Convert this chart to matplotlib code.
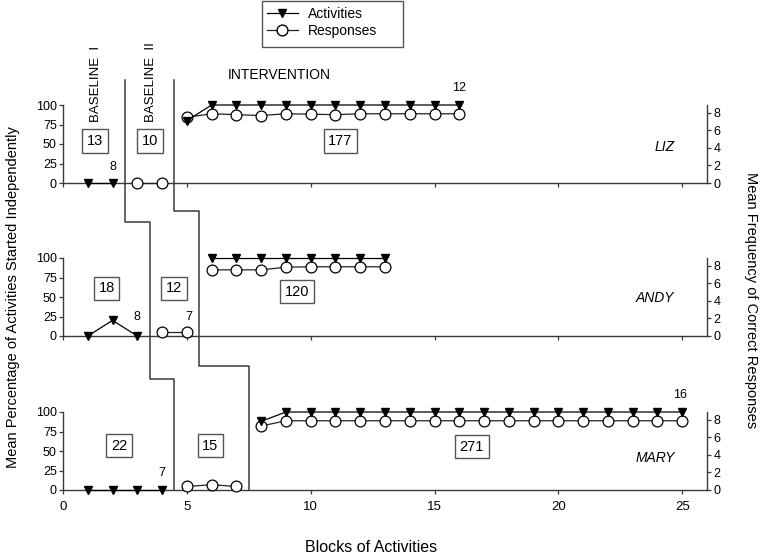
import matplotlib
matplotlib.use('Agg')
import matplotlib.pyplot as plt
from matplotlib.lines import Line2D
from matplotlib.patches import Rectangle

plt.rcParams['font.family'] = ['Liberation Sans', 'DejaVu Sans']

# ---------------- data ----------------
participants = ['LIZ', 'ANDY', 'MARY']

# LIZ
liz_bl1_x = [1, 2]
liz_bl1_act = [0, 0]
liz_bl2_x = [3, 4]
liz_bl2_resp = [0, 0]
liz_int_x = [5, 6, 7, 8, 9, 10, 11, 12, 13, 14, 15, 16]
liz_int_act = [80, 100, 100, 100, 100, 100, 100, 100, 100, 100, 100, 100]
liz_int_resp = [7.5, 7.9, 7.8, 7.7, 7.9, 7.85, 7.8, 7.9, 7.9, 7.9, 7.9, 7.9]

# ANDY
andy_bl1_x = [1, 2, 3]
andy_bl1_act = [0, 20, 0]
andy_bl2_x = [4, 5]
andy_bl2_resp = [0.4, 0.4]
andy_int_x = [6, 7, 8, 9, 10, 11, 12, 13]
andy_int_act = [100, 100, 100, 100, 100, 100, 100, 100]
andy_int_resp = [7.55, 7.55, 7.55, 7.85, 7.9, 7.9, 7.9, 7.9]

# MARY
mary_bl1_x = [1, 2, 3, 4]
mary_bl1_act = [0, 0, 0, 0]
mary_bl2_x = [5, 6, 7]
mary_bl2_resp = [0.4, 0.6, 0.4]
mary_int_x = [8, 9, 10, 11, 12, 13, 14, 15, 16, 17, 18, 19, 20, 21, 22, 23, 24, 25]
mary_int_act = [88, 100, 100, 100, 100, 100, 100, 100, 100, 100, 100, 100, 100, 100, 100, 100, 100, 100]
mary_int_resp = [7.3, 7.9, 7.9, 7.9, 7.9, 7.9, 7.9, 7.9, 7.9, 7.9, 7.9, 7.9, 7.9, 7.9, 7.9, 7.9, 7.9, 7.9]

# boxed numbers (per phase) and small annotation numbers
box_counts = {'LIZ': ['13', '10', '177'], 'ANDY': ['18', '12', '120'], 'MARY': ['22', '15', '271']}
small_notes = {'LIZ': ['8', '12'], 'ANDY': ['8', '7'], 'MARY': ['7', '16']}

x_ticks = [0, 5, 10, 15, 20, 25]
left_ticks = [0, 25, 50, 75, 100]
right_ticks = [0, 2, 4, 6, 8]

# phase-change positions (between sessions)
phase1_x = [2.5, 3.5, 4.5]
phase2_x = [4.5, 5.5, 7.5]

# ---------------- layout ----------------
W, H = 762, 553
fig = plt.figure(figsize=(W / 100, H / 100), dpi=100)

left_px, right_px = 63, 707
panel_y0_px = [183, 336, 490]
panel_h_px = 78

series = {
    'LIZ': (liz_bl1_x, liz_bl1_act, liz_bl2_x, liz_bl2_resp, liz_int_x, liz_int_act, liz_int_resp),
    'ANDY': (andy_bl1_x, andy_bl1_act, andy_bl2_x, andy_bl2_resp, andy_int_x, andy_int_act, andy_int_resp),
    'MARY': (mary_bl1_x, mary_bl1_act, mary_bl2_x, mary_bl2_resp, mary_int_x, mary_int_act, mary_int_resp),
}

box_pos = {'LIZ': [(1.3, 54), (3.5, 54), (11.2, 54)],
           'ANDY': [(1.76, 61), (4.48, 61), (9.46, 57)],
           'MARY': [(2.26, 57), (5.95, 57), (16.5, 55.5)]}
note_pos = {'LIZ': [(2.0, 21), (16.0, 122)],
            'ANDY': [(3.0, 24), (5.1, 25)],
            'MARY': [(4.0, 22), (24.9, 122)]}
name_pos = {'LIZ': (24.3, 46), 'ANDY': (23.9, 49), 'MARY': (23.9, 41)}

axc = '#3a3a3a'
RMAX = 8.9

tri_kw = dict(marker='v', color='black', markersize=6, lw=0.9, clip_on=False, zorder=6)
circ_kw = dict(marker='o', color='#222222', markerfacecolor='white', markeredgecolor='black',
               markersize=7.8, markeredgewidth=0.9, lw=0.9, clip_on=False, zorder=5)

axes = []
for i, name in enumerate(participants):
    b = 1 - panel_y0_px[i] / H
    ax = fig.add_axes([left_px / W, b, (right_px - left_px) / W, panel_h_px / H])
    ax.set_xlim(0, 26)
    ax.set_ylim(0, 100)
    ax.patch.set_visible(False)
    for s in ['top', 'right']:
        ax.spines[s].set_visible(False)
    ax.spines['left'].set_color(axc)
    ax.spines['bottom'].set_color(axc)
    ax.spines['left'].set_linewidth(1.0)
    ax.spines['bottom'].set_linewidth(1.0)
    ax.set_yticks(left_ticks)
    ax.set_xticks(x_ticks)
    ax.tick_params(axis='both', length=3, width=0.9, color=axc, labelsize=9, pad=1.5)
    if i < 2:
        ax.tick_params(axis='x', labelbottom=False)
    else:
        ax.tick_params(axis='x', pad=5, labelsize=9.5)

    ax2 = ax.twinx()
    ax2.set_ylim(0, RMAX)
    ax2.set_yticks(right_ticks)
    for s in ['top', 'left', 'bottom']:
        ax2.spines[s].set_visible(False)
    ax2.spines['right'].set_color(axc)
    ax2.spines['right'].set_linewidth(1.0)
    ax2.tick_params(axis='y', length=3, width=0.9, color=axc, labelsize=9, pad=1.5)

    bx, bact, b2x, b2resp, ix, iact, iresp = series[name]
    # responses on the right (frequency) scale
    ax2.plot(b2x, b2resp, **circ_kw)
    ax2.plot(ix, iresp, **circ_kw)
    # activities on the left (percentage) scale, drawn above the circles
    ax2.plot(bx, bact, transform=ax.transData, **tri_kw)
    ax2.plot(ix, iact, transform=ax.transData, **tri_kw)

    for lab, (px, py) in zip(box_counts[name], box_pos[name]):
        ax.text(px, py, lab, ha='center', va='center', fontsize=10.5,
                bbox=dict(boxstyle='square,pad=0.32', fc='white', ec='#555555', lw=1.0))
    for lab, (px, py) in zip(small_notes[name], note_pos[name]):
        ax.text(px, py, lab, ha='center', va='center', fontsize=9)
    nx, ny = name_pos[name]
    ax.text(nx, ny, name, ha='center', va='center', fontsize=10, style='italic')
    axes.append(ax)

# phase labels
top = axes[0]
top.text(1.35, 78, 'BASELINE  I', rotation=90, ha='center', va='bottom', fontsize=9.5)
top.text(3.57, 78, 'BASELINE  II', rotation=90, ha='center', va='bottom', fontsize=9.5)
top.text(8.74, 138, 'INTERVENTION', ha='center', va='center', fontsize=10)

# phase-change staircases
def to_fig(ax, x, y):
    return fig.transFigure.inverted().transform(ax.transData.transform((x, y)))

def stair(xs, steps):
    pts = [to_fig(axes[0], xs[0], 132)]
    for k in range(len(xs) - 1):
        pts.append(to_fig(axes[k], xs[k], steps[k]))
        pts.append(to_fig(axes[k], xs[k + 1], steps[k]))
    pts.append(to_fig(axes[-1], xs[-1], 0))
    fig.add_artist(Line2D([p[0] for p in pts], [p[1] for p in pts],
                          transform=fig.transFigure, color=axc, lw=1.1, zorder=3))

stair(phase1_x, [-50, -55])
stair(phase2_x, [-36, -38.5])

# axis labels
fig.text(13 / W, 1 - 297 / H, 'Mean Percentage of Activities Started Independently',
         rotation=90, ha='center', va='center', fontsize=10.5)
fig.text(751 / W, 1 - 300 / H, 'Mean Frequency of Correct Responses',
         rotation=270, ha='center', va='center', fontsize=10.5)
fig.text(371 / W, 1 - 547 / H, 'Blocks of Activities', ha='center', va='center', fontsize=11.5)

# legend
handles = [Line2D([], [], marker='v', color='black', markersize=6, lw=0.9),
           Line2D([], [], marker='o', color='#222222', markerfacecolor='white',
                  markeredgecolor='black', markersize=7.8, lw=0.9)]
leg = fig.legend(handles, ['Activities', 'Responses'], loc='upper left',
                 bbox_to_anchor=(267 / W, 1 - 7 / H), fontsize=10, frameon=False,
                 handlelength=2.2, handletextpad=0.75, borderpad=0, labelspacing=0.22,
                 borderaxespad=0)
fig.add_artist(Rectangle((262 / W, 1 - 47 / H), (403 - 262) / W, 46 / H,
                         transform=fig.transFigure, fill=False, ec='#555555', lw=1.0))

fig.savefig('out.png', dpi=100)
